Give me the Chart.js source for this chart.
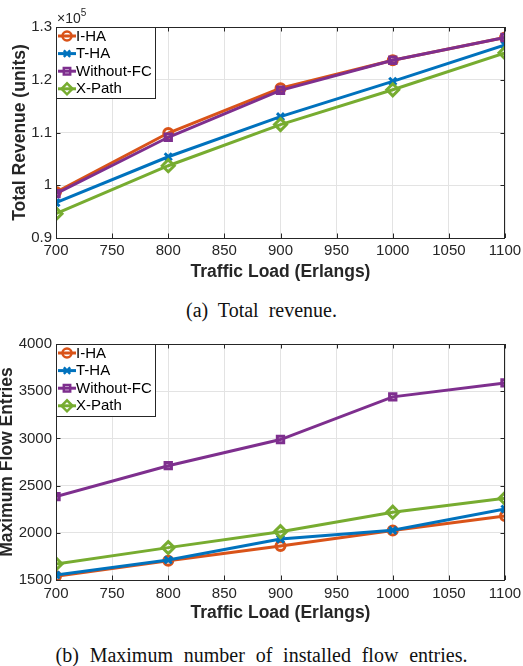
<!DOCTYPE html>
<html>
<head>
<meta charset="utf-8">
<script src="https://cdn.jsdelivr.net/npm/chart.js@4.4.1/dist/chart.umd.min.js"></script>
<style>
  html, body { margin: 0; padding: 0; background: #fff; }
  body { width: 523px; height: 666px; position: relative; overflow: hidden; }
  canvas { position: absolute; left: 0; }
  #revenueChart { top: 0; }
  #flowChart { top: 330px; }
  .caption {
    position: absolute; left: 0; width: 523px; text-align: center;
    font-family: "Liberation Serif", "Times New Roman", serif;
    font-size: 20px; word-spacing: 5px; color: #111;
    line-height: 20px;
  }
  #capA { top: 300px; left: 0px; }
  #capB { top: 645px; left: 0px; word-spacing: 5.8px; }
</style>
</head>
<body>
<canvas id="revenueChart" width="523" height="290"></canvas>
<div class="caption" id="capA">(a) Total revenue.</div>
<canvas id="flowChart" width="523" height="300"></canvas>
<div class="caption" id="capB">(b) Maximum number of installed flow entries.</div>
<script>
// traffic load (Erlangs)
const loads = [700, 800, 900, 1000, 1100];
const seriesNames = ["I-HA", "T-HA", "Without-FC", "X-Path"];
const seriesColors = ["#D95319", "#0072BD", "#7E2F8E", "#77AC30"];
const seriesMarkers = ["circle", "crossRot", "rect", "rectRot"];
const markerSizes = [4.5, 5, 4.5, 6];

// total revenue (units)
const revIHA = [98700, 109900, 118400, 123700, 128000];
const revTHA = [96700, 105400, 113000, 119700, 126600];
const revWFC = [98400, 109100, 118000, 123700, 128000];
const revXP = [94600, 103700, 111500, 118100, 125100];

// maximum flow entries
const flowIHA = [1540, 1705, 1860, 2025, 2178];
const flowTHA = [1553, 1712, 1934, 2026, 2252];
const flowWFC = [2383, 2711, 2988, 3440, 3588];
const flowXP = [1670, 1843, 2012, 2218, 2365];

const xTicks = [700, 750, 800, 850, 900, 950, 1000, 1050, 1100];

Chart.defaults.font.family = "'Liberation Sans', Arial, Helvetica, sans-serif";
Chart.defaults.color = "#262626";

const AXIS = "#262626";
const GRID = "#e3e3e3";

function makeSets(list) {
  return list.map((vals, i) => ({
    label: seriesNames[i],
    data: loads.map((x, j) => ({ x: x, y: vals[j] })),
    borderColor: seriesColors[i],
    backgroundColor: "rgba(255,255,255,0)",
    borderWidth: 3,
    pointStyle: seriesMarkers[i],
    pointRadius: markerSizes[i],
    pointBorderWidth: 3,
    pointBorderColor: seriesColors[i],
    pointBackgroundColor: "rgba(255,255,255,0)",
    tension: 0,
    order: 4 - i
  }));
}

function drawMarker(ctx, style, x, y, r, color) {
  ctx.save();
  ctx.strokeStyle = color;
  ctx.fillStyle = "rgba(255,255,255,0)";
  ctx.lineWidth = 2.5;
  if (Chart.helpers && Chart.helpers.drawPoint) {
    Chart.helpers.drawPoint(ctx, { pointStyle: style, radius: r, rotation: 0, borderWidth: 2.5 }, x, y);
  }
  ctx.restore();
}

// box, inward ticks, legend inside plot, optional exponent
const matlabAxes = {
  id: "matlabAxes",
  afterDraw(chart, args, opts) {
    const ctx = chart.ctx;
    const a = chart.chartArea;
    const xs = chart.scales.x, ys = chart.scales.y;
    ctx.save();
    ctx.strokeStyle = AXIS;
    ctx.lineWidth = 1;
    ctx.strokeRect(a.left + 0.5, a.top + 0.5, a.right - a.left - 1, a.bottom - a.top);
    ctx.beginPath();
    xs.ticks.forEach(t => {
      const px = Math.round(xs.getPixelForValue(t.value)) + 0.5;
      ctx.moveTo(px, a.bottom); ctx.lineTo(px, a.bottom - 4.5);
      ctx.moveTo(px, a.top); ctx.lineTo(px, a.top + 4.5);
    });
    ys.ticks.forEach(t => {
      const py = Math.round(ys.getPixelForValue(t.value)) + 0.5;
      ctx.moveTo(a.left, py); ctx.lineTo(a.left + 4.5, py);
      ctx.moveTo(a.right, py); ctx.lineTo(a.right - 4.5, py);
    });
    ctx.stroke();

    // legend
    const lx = a.left, ly = a.top;
    const lw = 99, lh = opts.legendH;
    ctx.fillStyle = "#fff";
    ctx.fillRect(lx, ly, lw, lh);
    ctx.strokeRect(lx + 0.5, ly + 0.5, lw, lh);
    ctx.font = "15px 'Liberation Sans', Arial, sans-serif";
    ctx.textBaseline = "middle";
    chart.data.datasets.forEach((ds, i) => {
      const ry = ly + 9 + i * 17.6;
      ctx.strokeStyle = ds.borderColor;
      ctx.lineWidth = 3;
      ctx.beginPath();
      ctx.moveTo(lx + 2, ry); ctx.lineTo(lx + 20, ry);
      ctx.stroke();
      drawMarker(ctx, ds.pointStyle, lx + 11, ry, i === 3 ? 5.5 : 4.5, ds.borderColor);
      ctx.fillStyle = "#000";
      ctx.fillText(ds.label, lx + 20, ry + 0.5);
    });

    if (opts.exponent) {
      ctx.fillStyle = AXIS;
      ctx.textBaseline = "alphabetic";
      ctx.font = "14px 'Liberation Sans', Arial, sans-serif";
      ctx.fillText("\u00d710", a.left + 1, a.top - 4);
      const w = ctx.measureText("\u00d710").width;
      ctx.font = "10px 'Liberation Sans', Arial, sans-serif";
      ctx.fillText("5", a.left + 1 + w, a.top - 11);
    }
    ctx.restore();
  }
};

function makeChart(id, sets, yMin, yMax, yStep, yTitle, yFmt, opt) {
  return new Chart(document.getElementById(id), {
    type: "line",
    data: { datasets: makeSets(sets) },
    plugins: [matlabAxes],
    options: {
      responsive: false,
      animation: false,
      events: [],
      layout: { padding: { left: 0, right: 18, top: opt.top, bottom: 0 } },
      plugins: {
        legend: { display: false },
        tooltip: { enabled: false },
        matlabAxes: { legendH: opt.legendH, exponent: opt.exponent }
      },
      scales: {
        x: {
          type: "linear",
          min: 700, max: 1100,
          afterFit: s => { s.height = opt.xH; s.paddingLeft = 0; s.paddingRight = 0; },
          afterBuildTicks: s => { s.ticks = xTicks.map(v => ({ value: v })); },
          grid: { color: GRID, drawTicks: false },
          border: { display: false },
          ticks: { font: { size: 15 }, color: AXIS, padding: opt.xPad, maxRotation: 0, autoSkip: false,
                   callback: v => String(v) },
          title: {
            display: true, text: "Traffic Load (Erlangs)", color: AXIS,
            font: { size: 17.5, weight: "bold" }, padding: { top: 0, bottom: opt.xTitlePad }
          }
        },
        y: {
          min: yMin, max: yMax,
          afterFit: s => { s.width = 56; s.paddingTop = 0; s.paddingBottom = 0; },
          grid: { color: GRID, drawTicks: false },
          border: { display: false },
          ticks: { stepSize: yStep, font: { size: 15 }, color: AXIS, padding: 4, callback: yFmt },
          title: {
            display: true, text: yTitle, color: AXIS,
            font: { size: 17.5, weight: "bold" }, padding: { top: opt.yTitlePad, bottom: 0 }
          }
        }
      }
    }
  });
}

makeChart("revenueChart", [revIHA, revTHA, revWFC, revXP], 90000, 130000, 10000,
  "Total Revenue (units)", v => String(Math.round(v / 1e4) / 10),
  { top: 27, xH: 52, xPad: 4, xTitlePad: 7, yTitlePad: 10, legendH: 71, exponent: true });

makeChart("flowChart", [flowIHA, flowTHA, flowWFC, flowXP], 1500, 4000, 500,
  "Maximum Flow Entries", v => String(v),
  { top: 14, xH: 50, xPad: 5, xTitlePad: 6, yTitlePad: -3, legendH: 72, exponent: false });
</script>
</body>
</html>
